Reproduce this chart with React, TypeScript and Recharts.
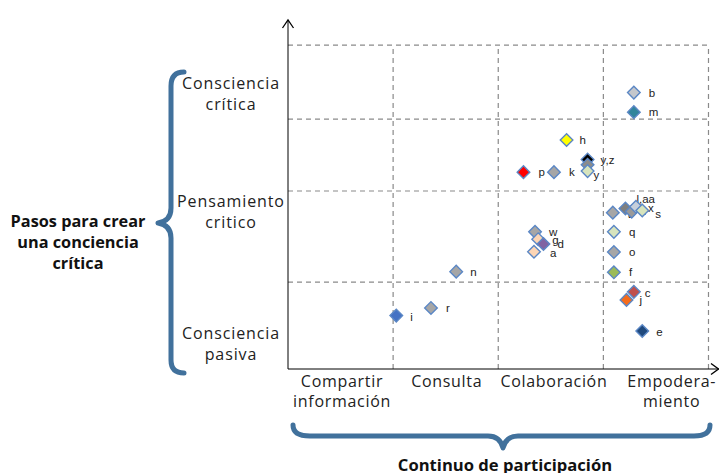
import React from 'react';
import { ScatterChart, Scatter, XAxis, YAxis, ReferenceLine } from 'recharts';

// ---- data ----
const pointLabels = ['b', 'm', 'h', 'y,z', '', 'y', 'k', 'p', 't', 'l,aa', 'u', 'x', 's', 'w', 'g', 'd', 'a', 'q', 'o', 'f', 'n', 'c', 'j', 'r', 'i', 'e'];
const participation = [3.29, 3.29, 2.65, 2.85, 2.85, 2.85, 2.53, 2.24, 3.09, 3.21, 3.27, 3.31, 3.37, 2.35, 2.38, 2.43, 2.34, 3.10, 3.10, 3.10, 1.60, 3.29, 3.22, 1.36, 1.03, 3.37];
const awareness = [79.2, 73.6, 65.6, 60.0, 58.5, 56.7, 56.4, 56.4, 44.8, 46.0, 45.1, 46.5, 45.4, 39.3, 37.2, 35.8, 33.6, 39.3, 33.5, 27.7, 27.9, 22.1, 19.8, 17.5, 15.3, 10.9];
const pointColors = ['#c4c7cc', '#31859c', '#ffff00', '#000000', '#8c8c8c', '#d7e4bd', '#a6a6a6', '#ff0000', '#a6a6a6', '#7f7f7f', '#9a9a9a', '#c6cfdb', '#d7e4bd', '#a6a6a6', '#fcd5b5', '#8064a2', '#fcd5b5', '#d7e4bd', '#a6a6a6', '#9bbb59', '#a6a6a6', '#c0504d', '#f46b1c', '#a6a6a6', '#4472c4', '#1f497d'];
// label nudges (presentation)
const labelDx = [15, 15, 13, 13, 0, 6, 15, 15, 15, 11, 8, 12, 13, 14, 14, 14, 16, 15, 15, 15, 14, 11, 13, 15, 14, 14];
const labelDy = [0, 0, 0, 0, 0, 4, 0, 0, 1, -9, -1, 1.5, 3, 0, 1, 0, 1, 0, 0, 0, 0, 1, 0, 0, 1, 1];

const xCategoryTicks = [0.514, 1.51, 2.53, 3.65];
const xCategoryLabels = [['Compartir', 'información'], ['Consulta'], ['Colaboración'], ['Empodera-', 'miento']];
const yLevelTicks = [7.2, 45.0, 78.9];
const yLevelLabels = [['Consciencia', 'pasiva'], ['Pensamiento', 'critico'], ['Consciencia', 'crítica']];
const xGridValues = [1, 2, 3, 4];
const yGridValues = [24.9, 51.0, 71.6, 92.8];
const X_MAX_GRID = 4;

const data = pointLabels.map((label, i) => ({
  label,
  x: participation[i],
  y: awareness[i],
  color: pointColors[i],
  dx: labelDx[i],
  dy: labelDy[i],
}));

const FONT = '"Open Sans", "DejaVu Sans", sans-serif';

const Diamond = (props: any) => {
  const { cx, cy, payload } = props;
  if (cx == null || cy == null) return null;
  const s = 6.3;
  return (
    <g>
      <path
        d={`M ${cx} ${cy - s} L ${cx + s} ${cy} L ${cx} ${cy + s} L ${cx - s} ${cy} Z`}
        fill={payload.color}
        stroke="#5b87c5"
        strokeWidth={1.4}
      />
      {payload.label ? (
        <text
          x={cx + payload.dx}
          y={cy + payload.dy}
          dominantBaseline="central"
          fontSize={11.5}
          fontFamily='"Liberation Sans", Arial, sans-serif'
          fill="#222"
        >
          {payload.label}
        </text>
      ) : null}
    </g>
  );
};

const XTick = (props: any) => {
  const { x, y, index } = props;
  const lines = xCategoryLabels[index] || [];
  return (
    <text x={x} y={y} textAnchor="middle" fontSize={16} letterSpacing={0.7} fontFamily={FONT} fill="#222">
      {lines.map((l: string, k: number) => (
        <tspan key={k} x={x} dy={k === 0 ? 10 : 19.5}>
          {l}
        </tspan>
      ))}
    </text>
  );
};

const YTick = (props: any) => {
  const { x, y, index } = props;
  const lines = yLevelLabels[index] || [];
  const cx = x - 49;
  return (
    <text x={cx} y={y} textAnchor="middle" fontSize={16} letterSpacing={0.9} fontFamily={FONT} fill="#222">
      {lines.map((l: string, k: number) => (
        <tspan key={k} x={cx} dy={k === 0 ? -4.5 : 20.5}>
          {l}
        </tspan>
      ))}
    </text>
  );
};

export default function App() {
  const braceColor = '#41719c';
  return (
    <div style={{ position: 'absolute', left: 0, top: 0, width: 719, height: 473, background: '#fff', overflow: 'hidden' }}>
      <ScatterChart
        width={719}
        height={473}
        margin={{ top: 20, right: 0, bottom: 64, left: 168 }}
      >
        <XAxis
          type="number"
          dataKey="x"
          domain={[0, 4.1]}
          ticks={xCategoryTicks}
          tick={<XTick />}
          tickLine={false}
          axisLine={{ stroke: '#000', strokeWidth: 1 }}
          height={40}
          interval={0}
          allowDataOverflow
        />
        <YAxis
          type="number"
          dataKey="y"
          domain={[0, 100]}
          ticks={yLevelTicks}
          tick={<YTick />}
          tickLine={false}
          axisLine={{ stroke: '#000', strokeWidth: 1 }}
          width={120}
          interval={0}
          allowDataOverflow
        />
        {xGridValues.map((v) => (
          <ReferenceLine
            key={'vx' + v}
            segment={[{ x: v, y: 0 }, { x: v, y: yGridValues[yGridValues.length - 1] }]}
            stroke="#8a8a8a"
            strokeDasharray="5 4"
            strokeWidth={1.2}
          />
        ))}
        {yGridValues.map((v) => (
          <ReferenceLine
            key={'hy' + v}
            segment={[{ x: 0, y: v }, { x: X_MAX_GRID, y: v }]}
            stroke="#8a8a8a"
            strokeDasharray="5 4"
            strokeWidth={1.2}
          />
        ))}
        <Scatter data={data} shape={<Diamond />} isAnimationActive={false} />
      </ScatterChart>
      <svg
        width={719}
        height={473}
        style={{ position: 'absolute', left: 0, top: 0, pointerEvents: 'none' }}
      >
        {/* axis arrowheads */}
        <path d="M 282.5 28 L 288 20 L 293.5 28" fill="none" stroke="#000" strokeWidth={1.3} />
        <path d="M 711 363.5 L 718.5 369 L 711 374.5" fill="none" stroke="#000" strokeWidth={1.3} />
        {/* left brace */}
        <path
          d="M 184 72 Q 171 72 171 86 L 171 208 Q 171 221 158 223 Q 171 225 171 238 L 171 360 Q 171 373 184 373"
          fill="none"
          stroke={braceColor}
          strokeWidth={5}
          strokeLinecap="round"
          strokeLinejoin="round"
        />
        {/* bottom brace */}
        <path
          d="M 293 425 Q 293 436 310 436 L 488 436 Q 500 436 503 448 Q 506 436 518 436 L 694 436 Q 710 436 710 425"
          fill="none"
          stroke={braceColor}
          strokeWidth={5}
          strokeLinecap="round"
          strokeLinejoin="round"
        />
        <text x={78} textAnchor="middle" fontFamily={FONT} fontWeight={700} fontSize={16.3} fill="#111">
          <tspan x={78} y={227}>Pasos para crear</tspan>
          <tspan x={78} y={248}>una conciencia</tspan>
          <tspan x={78} y={269}>crítica</tspan>
        </text>
        <text x={505} y={471} textAnchor="middle" fontFamily={FONT} fontWeight={700} fontSize={16.6} fill="#111">
          Continuo de participación
        </text>
      </svg>
    </div>
  );
}
